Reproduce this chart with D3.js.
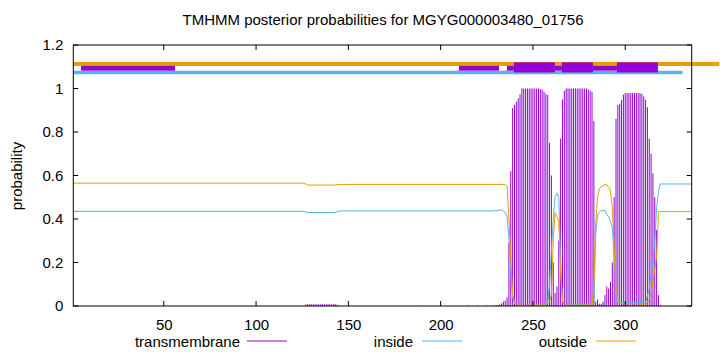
<!DOCTYPE html>
<html><head><meta charset="utf-8">
<script src="https://cdn.jsdelivr.net/npm/d3@7"></script>
<style>body{margin:0;background:#fff}svg{display:block;font-family:"Liberation Sans",Arial,sans-serif}</style>
</head><body><svg id="c" width="720" height="352"></svg>
<script>
const title = "TMHMM posterior probabilities for MGYG000003480_01756";
const seqLength = 336;
const xTicks = [50, 100, 150, 200, 250, 300];
const yTicks = [0, 0.2, 0.4, 0.6, 0.8, 1, 1.2];
const legendLabels = ["transmembrane", "inside", "outside"];

// transmembrane posterior (impulses): [residue, probability]
const tmProb = [
  [127,0.008],[128,0.008],[129,0.008],[130,0.008],[131,0.008],[132,0.008],[133,0.008],[134,0.008],[135,0.008],
  [136,0.008],[137,0.008],[138,0.008],[139,0.008],[140,0.008],[141,0.008],[142,0.008],[143,0.008],[144,0.006],
  [190,0.002],[200,0.002],[215,0.003],[220,0.003],[225,0.003],[228,0.003],[230,0.004],[231,0.005],[232,0.008],
  [233,0.012],[234,0.02],[235,0.025],[236,0.04],[237,0.29],[238,0.62],
  [239,0.91],[240,0.925],[241,0.94],[242,0.955],[243,0.973],[244,1.0],[245,1.0],[246,1.0],[247,1.0],[248,1.0],
  [249,1.0],[250,1.0],[251,1.0],[252,1.0],[253,1.0],[254,0.998],[255,0.995],[256,0.985],[257,0.975],[258,0.97],
  [259,0.75],[260,0.6],[261,0.2],[262,0.06],[263,0.09],[264,0.3],
  [265,0.77],[266,0.95],[267,0.99],[268,1.0],[269,1.0],[270,1.0],[271,1.0],[272,1.0],[273,1.0],[274,1.0],
  [275,1.0],[276,1.0],[277,1.0],[278,1.0],[279,1.0],[280,0.995],[281,0.99],[282,0.985],[283,0.85],
  [284,0.02],[285,0.03],[286,0.01],[287,0.01],[288,0.02],[289,0.05],[290,0.09],[291,0.08],[292,0.11],[293,0.2],
  [294,0.5],[295,0.86],[296,0.924],[297,0.93],[298,0.948],[299,0.972],[300,0.979],[301,0.979],[302,0.979],
  [303,0.979],[304,0.979],[305,0.979],[306,0.979],[307,0.979],[308,0.979],[309,0.975],[310,0.964],[311,0.948],
  [312,0.914],[313,0.77],[314,0.7],[315,0.61],[316,0.5],[317,0.35],[318,0.05],[319,0.005]
];

// inside posterior (line): [residue, probability]
const insideProb = [
  [1,0.435],[126,0.435],[128,0.43],[143,0.43],[145,0.437],[228,0.437],[231,0.44],[233,0.442],[234,0.435],
  [235,0.43],[236,0.41],[237,0.31],[238,0.16],[239,0.04],[240,0.01],[242,0.002],[257,0.003],[258,0.015],
  [259,0.1],[260,0.25],[261,0.4],[262,0.5],[263,0.52],[264,0.5],[265,0.2],[266,0.02],[268,0.003],
  [283,0.01],[284,0.33],[285,0.42],[287,0.44],[289,0.44],[290,0.42],[291,0.41],[292,0.39],[293,0.36],
  [294,0.24],[295,0.06],[296,0.015],[311,0.015],[313,0.08],[315,0.2],[316,0.3],[317,0.45],[318,0.53],
  [319,0.561],[336,0.561]
];

// outside posterior (line): [residue, probability]
const outsideProb = [
  [1,0.565],[126,0.565],[128,0.556],[143,0.556],[145,0.559],[235,0.559],[236,0.55],[237,0.4],[238,0.22],
  [239,0.05],[240,0.02],[241,0.008],[243,0.002],[256,0.005],[259,0.02],[260,0.05],[261,0.3],[262,0.43],
  [263,0.41],[264,0.39],[265,0.15],[266,0.02],[267,0.003],[282,0.005],[283,0.1],[284,0.38],[285,0.5],
  [286,0.54],[288,0.555],[290,0.558],[291,0.545],[292,0.53],[293,0.45],[294,0.27],[295,0.08],[296,0.03],
  [298,0.012],[311,0.008],[313,0.03],[314,0.06],[316,0.17],[317,0.23],[318,0.434],[336,0.434]
];

// topology bars at the top: [from, to]
const outsideBar = [[1, 351]];
const insideBar = [[1, 331]];
const thinTmBars = [[5.2, 56.1], [209.9, 231.6], [235.9, 239.7], [261.9, 265.7], [282.5, 295.5]];
const thickTmBars = [[239.7, 261.9], [265.7, 282.5], [295.5, 317.7]];

const colTM = "#9400d3", colIn = "#56b4e9", colOut = "#e69f00";
const FS = 15;
const svg = d3.select("#c");
const L = 73.3, R = 691.7, T = 45, B = 306;
const x = d3.scaleLinear().domain([1, seqLength]).range([L, R]);
const y = d3.scaleLinear().domain([0, 1.2]).range([B, T]);

svg.append("text").attr("x", 383).attr("y", 25).attr("text-anchor", "middle")
  .attr("font-size", FS).text(title);

svg.append("text").attr("transform", "translate(22,176) rotate(-90)").attr("text-anchor", "middle")
  .attr("font-size", FS).text("probability");

// impulses
svg.append("g").selectAll("line").data(tmProb).join("line")
  .attr("x1", d => x(d[0])).attr("x2", d => x(d[0]))
  .attr("y1", y(0)).attr("y2", d => y(d[1]))
  .attr("stroke", colTM).attr("stroke-width", 1);

const line = d3.line().x(d => x(d[0])).y(d => y(d[1]));
svg.append("path").attr("d", line(insideProb)).attr("fill", "none").attr("stroke", colIn).attr("stroke-width", 1);
svg.append("path").attr("d", line(outsideProb)).attr("fill", "none").attr("stroke", colOut).attr("stroke-width", 1);

// top bars
svg.append("g").selectAll("line").data(outsideBar).join("line")
  .attr("x1", d => x(d[0])).attr("x2", d => x(d[1])).attr("y1", y(1.113)).attr("y2", y(1.113))
  .attr("stroke", colOut).attr("stroke-width", 4);
svg.append("g").selectAll("line").data(insideBar).join("line")
  .attr("x1", d => x(d[0])).attr("x2", d => x(d[1])).attr("y1", y(1.074)).attr("y2", y(1.074))
  .attr("stroke", colIn).attr("stroke-width", 3.5);
svg.append("g").selectAll("rect").data(thinTmBars).join("rect")
  .attr("x", d => x(d[0])).attr("width", d => x(d[1]) - x(d[0]))
  .attr("y", y(1.104)).attr("height", y(1.082) - y(1.104)).attr("fill", colTM);
svg.append("g").selectAll("rect").data(thickTmBars).join("rect")
  .attr("x", d => x(d[0])).attr("width", d => x(d[1]) - x(d[0]))
  .attr("y", y(1.12)).attr("height", y(1.074) - y(1.12)).attr("fill", colTM);

// frame
svg.append("rect").attr("x", L).attr("y", T).attr("width", R - L).attr("height", B - T)
  .attr("fill", "none").attr("stroke", "#000").attr("stroke-width", 1);

// axes
const tl = 5;
const gx = svg.append("g").attr("transform", `translate(0,${B})`)
  .call(d3.axisBottom(x).tickValues(xTicks).tickSize(0).tickPadding(13).tickFormat(d3.format("d")));
gx.select(".domain").remove();
gx.selectAll("text").attr("font-size", FS).attr("font-family", "Liberation Sans, Arial, sans-serif").attr("fill", "#000");
const gy = svg.append("g").attr("transform", `translate(${L},0)`)
  .call(d3.axisLeft(y).tickValues(yTicks).tickSize(0).tickPadding(10).tickFormat(d => d3.format("")(+d.toFixed(1))));
gy.select(".domain").remove();
gy.selectAll("text").attr("font-size", FS).attr("font-family", "Liberation Sans, Arial, sans-serif").attr("fill", "#000");

const tg = svg.append("g").attr("stroke", "#000").attr("stroke-width", 1);
xTicks.forEach(v => {
  tg.append("line").attr("x1", x(v)).attr("x2", x(v)).attr("y1", B).attr("y2", B - tl);
  tg.append("line").attr("x1", x(v)).attr("x2", x(v)).attr("y1", T).attr("y2", T + tl);
});
yTicks.forEach(v => {
  tg.append("line").attr("x1", L).attr("x2", L + tl).attr("y1", y(v)).attr("y2", y(v));
  tg.append("line").attr("x1", R).attr("x2", R - tl).attr("y1", y(v)).attr("y2", y(v));
});

// legend
const legendPos = [{tx: 240, lx: 247}, {tx: 413, lx: 422}, {tx: 587, lx: 596}];
const legendCols = [colTM, colIn, colOut];
legendLabels.forEach((lab, i) => {
  svg.append("text").attr("x", legendPos[i].tx).attr("y", 347).attr("text-anchor", "end")
    .attr("font-size", FS).text(lab);
  svg.append("line").attr("x1", legendPos[i].lx).attr("x2", legendPos[i].lx + 40)
    .attr("y1", 341).attr("y2", 341).attr("stroke", legendCols[i]).attr("stroke-width", 1);
});
</script></body></html>
